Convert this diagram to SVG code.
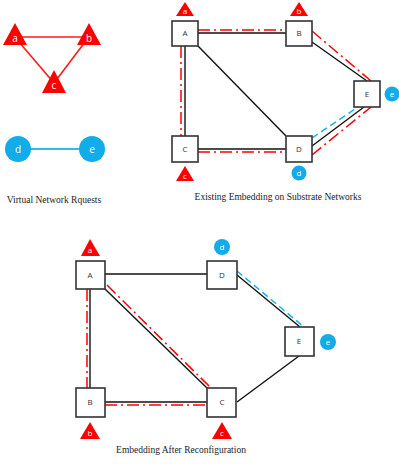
<svg xmlns="http://www.w3.org/2000/svg" width="399" height="464" viewBox="0 0 399 464">
  <style>
    .tri { fill: #FF0000; }
    .tl { font-family: "Open Sans", "Liberation Sans", sans-serif; font-size: 8px; fill: #fff; text-anchor: middle; }
    .tl-big { font-size: 10px; }
    .circ { fill: #12ACE8; }
    .box { fill: #fff; stroke: #333; stroke-width: 1.6; }
    .bl { font-family: "Open Sans", "Liberation Sans", sans-serif; font-size: 8px; fill: #333; text-anchor: middle; }
    .vline { stroke: #FF1A1A; stroke-width: 1.6; fill: none; }
    .bline { stroke: #35B8EA; stroke-width: 2; fill: none; }
    .sub { stroke: #111; stroke-width: 1.4; fill: none; }
    .red { stroke: #FF0000; stroke-width: 1.5; stroke-dasharray: 12 4 2 4; fill: none; }
    .blue { stroke: #1AB0EA; stroke-width: 1.5; stroke-dasharray: 7 4; fill: none; }
    .cap { font-family: "Liberation Serif", "Times New Roman", serif; font-size: 9.5px; fill: #222; text-anchor: middle; }
  </style>

  <!-- Virtual network requests -->
  <g id="vnr-links">
    <line class="vline" x1="15" y1="37" x2="89" y2="37"/>
    <line class="vline" x1="19" y1="42" x2="54" y2="83"/>
    <line class="vline" x1="85" y1="42" x2="54" y2="83"/>
    <line class="bline" x1="18" y1="149" x2="92" y2="149"/>
  </g>
  <g id="vnr-a"><polygon class="tri" points="15,23 3,45 27,45"/><text class="tl tl-big" x="15" y="42">a</text></g>
  <g id="vnr-b"><polygon class="tri" points="89,23 77,45 101,45"/><text class="tl tl-big" x="89" y="42">b</text></g>
  <g id="vnr-c"><polygon class="tri" points="54,70 42,93 66,93"/><text class="tl tl-big" x="54" y="89">c</text></g>
  <g id="vnr-d"><circle class="circ" cx="18" cy="149" r="13"/><text class="tl tl-big" x="18" y="153">d</text></g>
  <g id="vnr-e"><circle class="circ" cx="92" cy="149" r="13"/><text class="tl tl-big" x="92" y="153">e</text></g>
  <text class="cap" x="54" y="203">Virtual Network Rquests</text>

  <!-- Existing embedding -->
  <g id="existing-links">
    <line class="sub" x1="198" y1="33" x2="286" y2="33"/>
    <line class="red" x1="198" y1="30" x2="286" y2="30"/>
    <line class="sub" x1="185" y1="46" x2="185" y2="136"/>
    <line class="red" x1="181" y1="46" x2="181" y2="136"/>
    <line class="sub" x1="198" y1="46" x2="286" y2="136"/>
    <line class="sub" x1="198" y1="149" x2="286" y2="149"/>
    <line class="red" x1="198" y1="152" x2="286" y2="152"/>
    <line class="sub" x1="312" y1="42" x2="367" y2="81"/>
    <line class="red" x1="312" y1="31" x2="371" y2="81"/>
    <line class="sub" x1="312" y1="146" x2="364" y2="107"/>
    <line class="blue" x1="312" y1="138" x2="358" y2="107"/>
    <line class="red" x1="312" y1="155" x2="371" y2="107"/>
  </g>
  <g id="ex-A"><rect class="box" x="172" y="21" width="26" height="25"/><text class="bl" x="185" y="36">A</text></g>
  <g id="ex-B"><rect class="box" x="286" y="21" width="26" height="25"/><text class="bl" x="299" y="36">B</text></g>
  <g id="ex-C"><rect class="box" x="172" y="136" width="26" height="26"/><text class="bl" x="185" y="152">C</text></g>
  <g id="ex-D"><rect class="box" x="286" y="136" width="26" height="26"/><text class="bl" x="299" y="152">D</text></g>
  <g id="ex-E"><rect class="box" x="354" y="81" width="26" height="26"/><text class="bl" x="367" y="97">E</text></g>
  <g id="ex-a"><polygon class="tri" points="185,2 176,16 194,16"/><text class="tl" x="185" y="14">a</text></g>
  <g id="ex-b"><polygon class="tri" points="299,2 290,16 308,16"/><text class="tl" x="299" y="14">b</text></g>
  <g id="ex-c"><polygon class="tri" points="185,166 176,181 194,181"/><text class="tl" x="185" y="179">c</text></g>
  <g id="ex-d"><circle class="circ" cx="299" cy="173" r="7.5"/><text class="tl" x="299" y="176">d</text></g>
  <g id="ex-e"><circle class="circ" cx="392" cy="94" r="7.5"/><text class="tl" x="392" y="97">e</text></g>
  <text class="cap" x="278" y="200">Existing Embedding on Substrate Networks</text>

  <!-- Embedding after reconfiguration -->
  <g id="reconf-links">
    <line class="sub" x1="105" y1="274" x2="207" y2="274"/>
    <line class="sub" x1="90" y1="289" x2="90" y2="388"/>
    <line class="red" x1="87" y1="289" x2="87" y2="388"/>
    <line class="sub" x1="105" y1="289" x2="207" y2="388"/>
    <line class="red" x1="107" y1="285" x2="211" y2="388"/>
    <line class="sub" x1="105" y1="402" x2="207" y2="402"/>
    <line class="red" x1="105" y1="405" x2="207" y2="405"/>
    <line class="sub" x1="237" y1="402" x2="299" y2="356"/>
    <line class="sub" x1="237" y1="275" x2="300" y2="327"/>
    <line class="blue" x1="237" y1="271" x2="304" y2="327"/>
  </g>
  <g id="rc-A"><rect class="box" x="76" y="261" width="29" height="28"/><text class="bl" x="90" y="278">A</text></g>
  <g id="rc-D"><rect class="box" x="207" y="261" width="30" height="28"/><text class="bl" x="222" y="278">D</text></g>
  <g id="rc-B"><rect class="box" x="76" y="388" width="29" height="29"/><text class="bl" x="90" y="405">B</text></g>
  <g id="rc-C"><rect class="box" x="207" y="388" width="29" height="29"/><text class="bl" x="222" y="405">C</text></g>
  <g id="rc-E"><rect class="box" x="285" y="327" width="29" height="29"/><text class="bl" x="299" y="344">E</text></g>
  <g id="rc-a"><polygon class="tri" points="90,239 81,256 100,256"/><text class="tl" x="90" y="253">a</text></g>
  <g id="rc-b"><polygon class="tri" points="90,422 80,439 100,439"/><text class="tl" x="90" y="436">b</text></g>
  <g id="rc-c"><polygon class="tri" points="222,422 212,439 232,439"/><text class="tl" x="222" y="436">c</text></g>
  <g id="rc-d"><circle class="circ" cx="222" cy="247" r="8"/><text class="tl" x="222" y="250">d</text></g>
  <g id="rc-e"><circle class="circ" cx="328" cy="342" r="8"/><text class="tl" x="328" y="345">e</text></g>
  <text class="cap" x="181" y="453">Embedding After Reconfiguration</text>
</svg>
